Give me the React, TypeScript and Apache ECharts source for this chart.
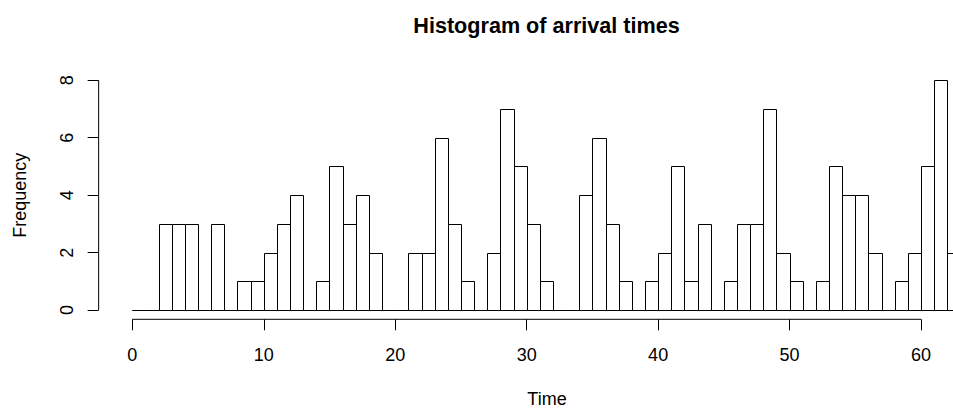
import React, { useEffect, useRef } from "react";
import * as echarts from "echarts";

// Histogram counts for bins [i, i+1), i = 0..62
const counts: number[] = [
  0, 0, 3, 3, 3, 0, 3, 0, 1, 1,
  2, 3, 4, 0, 1, 5, 3, 4, 2, 0,
  0, 2, 2, 6, 3, 1, 0, 2, 7, 5,
  3, 1, 0, 0, 4, 6, 3, 1, 0, 1,
  2, 5, 1, 3, 0, 1, 3, 3, 7, 2,
  1, 0, 1, 5, 4, 4, 2, 0, 1, 2,
  5, 8, 2,
];
const binWidth = 1;
const breaks: number[] = counts.map((_, i) => i * binWidth);
const xTicks: number[] = [0, 10, 20, 30, 40, 50, 60];
const yTicks: number[] = [0, 2, 4, 6, 8];
const titleText = "Histogram of arrival times";
const xLabel = "Time";
const yLabel = "Frequency";

const FONT = "'Liberation Sans', Arial, Helvetica, sans-serif";

export default function App() {
  const ref = useRef<HTMLDivElement>(null);
  useEffect(() => {
    if (!ref.current) return;
    const chart = echarts.init(ref.current, undefined, { renderer: "svg" });
    const binData = counts.map((c, i) => [breaks[i], breaks[i] + binWidth, c]);
    const xMin = -2.56;
    const xMax = 62.43;
    const yMin = -0.32;
    const yMax = 8.32;
    chart.setOption({
      animation: false,
      backgroundColor: "#fff",
      grid: {
        left: 98.65,
        right: 0,
        top: 71.1,
        bottom: 88.7,
        containLabel: false,
        outerBoundsMode: "none",
      },
      xAxis: {
        type: "value",
        min: xMin,
        max: xMax,
        axisLine: { show: false, onZero: false },
        splitLine: { show: false },
        axisTick: {
          show: true,
          inside: false,
          customValues: xTicks,
          length: 11,
          lineStyle: { color: "#000", width: 1 },
        },
        axisLabel: {
          show: true,
          customValues: xTicks,
          margin: 27,
          fontSize: 18,
          fontFamily: FONT,
          color: "#000",
        },
      },
      yAxis: {
        type: "value",
        min: yMin,
        max: yMax,
        axisLine: { show: false, onZero: false },
        splitLine: { show: false },
        axisTick: {
          show: true,
          inside: false,
          customValues: yTicks,
          length: 11,
          lineStyle: { color: "#000", width: 1 },
        },
        axisLabel: {
          show: true,
          customValues: yTicks,
          rotate: 90,
          margin: 23,
          fontSize: 18,
          fontFamily: FONT,
          color: "#000",
        },
      },
      graphic: [
        {
          type: "text",
          x: 546.5,
          y: 25,
          style: {
            text: titleText,
            font: `bold 21.6px ${FONT}`,
            fill: "#000",
            align: "center",
            verticalAlign: "middle",
          },
        },
        {
          type: "text",
          x: 547,
          y: 398.5,
          style: {
            text: xLabel,
            font: `18px ${FONT}`,
            fill: "#000",
            align: "center",
            verticalAlign: "middle",
          },
        },
        {
          type: "text",
          x: 20,
          y: 195.2,
          rotation: Math.PI / 2,
          style: {
            text: yLabel,
            font: `18px ${FONT}`,
            fill: "#000",
            align: "center",
            verticalAlign: "middle",
          },
        },
      ],
      series: [
        {
          type: "custom",
          name: "bins",
          data: binData,
          encode: { x: [0, 1], y: 2 },
          renderItem: (params: any, api: any) => {
            const s = api.value(0);
            const e = api.value(1);
            const c = api.value(2);
            const p0 = api.coord([s, c]);
            const p1 = api.coord([e, 0]);
            return {
              type: "rect",
              shape: {
                x: Math.round(p0[0]) + 0.5,
                y: Math.round(p0[1]) + 0.5,
                width: Math.round(p1[0]) - Math.round(p0[0]),
                height: Math.round(p1[1]) - Math.round(p0[1]),
              },
              style: { fill: "#fff", stroke: "#000", lineWidth: 1 },
            };
          },
        },
        {
          type: "custom",
          name: "axes",
          data: [[0]],
          renderItem: (params: any, api: any) => {
            const xa = api.coord([xTicks[0], yMin]);
            const xb = api.coord([xTicks[xTicks.length - 1], yMin]);
            const ya = api.coord([xMin, yTicks[0]]);
            const yb = api.coord([xMin, yTicks[yTicks.length - 1]]);
            return {
              type: "group",
              children: [
                {
                  type: "line",
                  shape: { x1: xa[0], y1: xa[1], x2: xb[0], y2: xb[1] },
                  style: { stroke: "#000", lineWidth: 1 },
                },
                {
                  type: "line",
                  shape: { x1: ya[0], y1: ya[1], x2: yb[0], y2: yb[1] },
                  style: { stroke: "#000", lineWidth: 1 },
                },
              ],
            };
          },
        },
      ],
    });
    return () => chart.dispose();
  }, []);
  return (
    <div
      ref={ref}
      style={{ position: "fixed", left: 0, top: 0, width: 953, height: 408 }}
    />
  );
}
